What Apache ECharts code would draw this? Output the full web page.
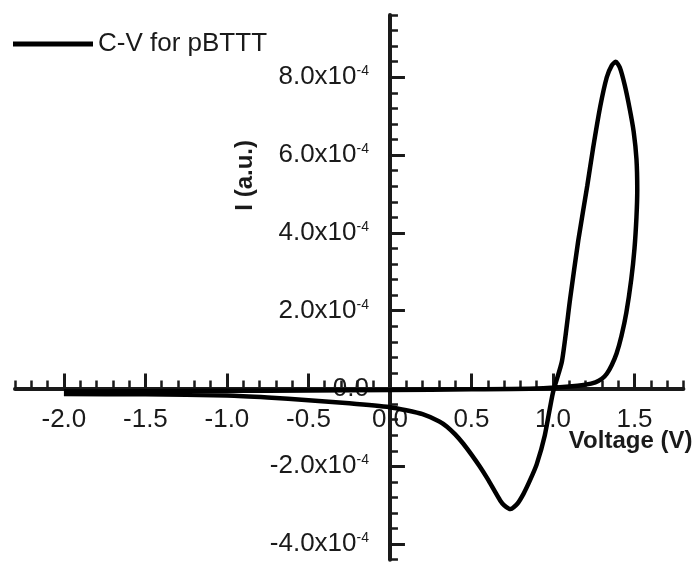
<!DOCTYPE html>
<html>
<head>
<meta charset="utf-8">
<style>
  html, body { margin: 0; padding: 0; background: #fff; }
  #chart { width: 696px; height: 562px; }
</style>
<script src="https://cdn.jsdelivr.net/npm/echarts/dist/echarts.min.js"></script>
</head>
<body>
<div id="chart"></div>
<script>
// sweep: forward along the axis, up to the vertex, back through the peaks
const voltage = [
  -2.0, -1.5, -1.0, -0.5, 0.0, 0.5, 0.9, 1.1, 1.2, 1.26, 1.3, 1.33, 1.36, 1.39, 1.42, 1.45, 1.48, 1.5, 1.512, 1.517,
  1.512, 1.495, 1.47, 1.44, 1.41, 1.385, 1.36, 1.33, 1.29, 1.245, 1.21, 1.155, 1.105, 1.055, 1.0,
  0.95, 0.9, 0.86, 0.82, 0.78, 0.74, 0.7, 0.675, 0.64, 0.6, 0.55, 0.5, 0.45, 0.4, 0.35, 0.3, 0.2, 0.1, 0.0,
  -0.25, -0.5, -0.75, -1.0, -1.5, -2.0
];
// current in units of 1e-4
const current = [
  -0.08, -0.07, -0.06, -0.05, -0.04, -0.02, 0.0, 0.05, 0.1, 0.16, 0.25, 0.38, 0.6, 0.9, 1.35, 1.95, 2.8, 3.6, 4.4, 5.1,
  5.9, 6.6, 7.2, 7.8, 8.25, 8.4, 8.3, 8.0, 7.25, 6.15, 5.2, 3.8, 2.3, 0.7, -0.1,
  -1.2, -1.95, -2.35, -2.7, -2.97, -3.1, -3.0, -2.87, -2.62, -2.33, -2.0, -1.7, -1.42, -1.18, -0.98, -0.84, -0.66, -0.56, -0.48,
  -0.38, -0.3, -0.23, -0.18, -0.15, -0.14
];
const seriesName = 'C-V for pBTTT';
const xTickValues = [-2, -1.5, -1, -0.5, 0, 0.5, 1, 1.5];
const yTickValues = [-4, -2, 0, 2, 4, 6, 8];
const xName = 'Voltage (V)';
const yName = 'I (a.u.)';

const font = "'Liberation Sans', Arial, sans-serif";
const ink = '#1a1a1a';

const xMin = -2.3, xMax = 1.8, yMin = -4.4, yMax = 9.6;
const gridBox = { left: 15, right: 12.6, top: 15, bottom: 2.3 };
const chartW = 696, chartH = 562;
// the label-carrying axes are shifted onto the zero lines with offset
const plotW = chartW - gridBox.left - gridBox.right;
const plotH = chartH - gridBox.top - gridBox.bottom;
const xAxisOffset = -(plotH * (0 - yMin) / (yMax - yMin));
const yAxisOffset = -(plotW * (0 - xMin) / (xMax - xMin));

const chart = echarts.init(document.getElementById('chart'));

function yLabel(value) {
  if (value === 0) return '{m|0.0}';
  return '{m|' + value.toFixed(1) + 'x10}{e|-4}';
}

chart.setOption({
  animation: false,
  legend: {
    data: [seriesName],
    left: 8,
    top: 26,
    icon: 'rect',
    itemWidth: 80,
    itemHeight: 5,
    textStyle: { fontSize: 26, fontFamily: font, color: ink }
  },
  grid: Object.assign({ containLabel: false, outerBoundsMode: 'none' }, gridBox),
  xAxis: [
    {
      type: 'value',
      min: xMin,
      max: xMax,
      interval: 0.1,
      axisLine: { onZero: true, onZeroAxisIndex: 0, lineStyle: { color: ink, width: 4 } },
      axisTick: { inside: true, length: 8, lineStyle: { color: ink, width: 2.5 } },
      axisLabel: { show: false },
      splitLine: { show: false }
    },
    {
      type: 'value',
      position: 'bottom',
      offset: xAxisOffset,
      min: xMin,
      max: xMax,
      axisLine: { show: false, onZero: false },
      axisTick: { inside: true, length: 15, customValues: xTickValues, lineStyle: { color: ink, width: 3 } },
      axisLabel: {
        customValues: xTickValues,
        formatter: (v) => v.toFixed(1),
        fontSize: 26,
        fontFamily: font,
        color: ink,
        margin: 18
      },
      splitLine: { show: false },
      name: xName,
      nameLocation: 'end',
      nameGap: 9,
      nameMoveOverlap: false,
      nameTextStyle: {
        fontSize: 24,
        fontWeight: 'bold',
        fontFamily: font,
        color: ink,
        align: 'right',
        verticalAlign: 'top',
        padding: [41, 0, 0, 0]
      }
    }
  ],
  yAxis: [
    {
      type: 'value',
      min: yMin,
      max: yMax,
      interval: 0.4,
      axisLine: { onZero: true, onZeroAxisIndex: 0, lineStyle: { color: ink, width: 4 } },
      axisTick: { inside: true, length: 8, lineStyle: { color: ink, width: 2.5 } },
      axisLabel: { show: false },
      splitLine: { show: false }
    },
    {
      type: 'value',
      position: 'left',
      offset: yAxisOffset,
      min: yMin,
      max: yMax,
      axisLine: { show: false, onZero: false },
      axisTick: { inside: true, length: 15, customValues: yTickValues, lineStyle: { color: ink, width: 3 } },
      axisLabel: {
        customValues: yTickValues,
        formatter: yLabel,
        margin: 21,
        rich: {
          m: { fontSize: 26, fontFamily: font, color: ink },
          e: { fontSize: 14, fontFamily: font, color: ink, verticalAlign: 'top' }
        }
      },
      splitLine: { show: false },
      name: yName,
      nameLocation: 'middle',
      nameRotate: 90,
      nameGap: 145,
      nameMoveOverlap: false,
      nameTextStyle: {
        fontSize: 24,
        fontWeight: 'bold',
        fontFamily: font,
        color: ink,
        align: 'center',
        verticalAlign: 'middle',
        padding: [0, 0, 0, 224]
      }
    }
  ],
  series: [
    {
      name: seriesName,
      type: 'line',
      xAxisIndex: 0,
      yAxisIndex: 0,
      data: voltage.map((v, i) => [v, current[i]]),
      symbol: 'none',
      smooth: 0.2,
      lineStyle: { color: '#000', width: 4.5 },
      itemStyle: { color: '#000' },
      z: 3
    }
  ]
});

window.addEventListener('resize', () => chart.resize());
</script>
</body>
</html>
